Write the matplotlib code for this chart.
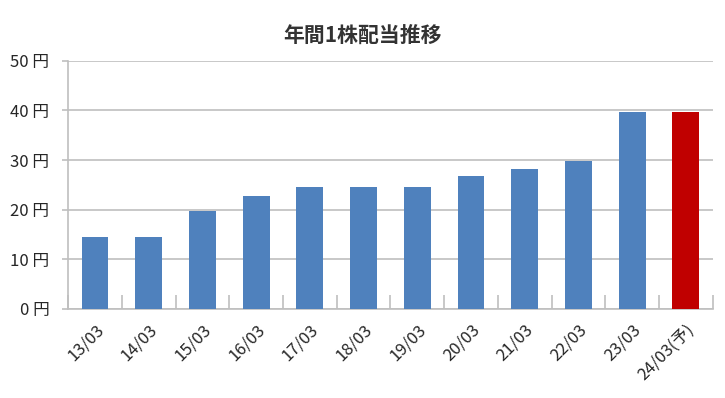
import numpy as np
import matplotlib.pyplot as plt
from matplotlib.ticker import MultipleLocator, FuncFormatter

plt.rcParams['font.family'] = ['Noto Sans CJK JP', 'DejaVu Sans']

# data
labels = ['13/03', '14/03', '15/03', '16/03', '17/03', '18/03', '19/03',
          '20/03', '21/03', '22/03', '23/03', '24/03(予)']
dividend = [14.5, 14.5, 19.75, 22.75, 24.5, 24.5, 24.5, 26.75, 28.25, 29.75, 39.75, 39.75]
colors = ['#4F81BD'] * 11 + ['#C00000']

fig = plt.figure(figsize=(7.25, 3.98), dpi=100)
ax = fig.add_axes([0.094, 0.224, 0.889, 0.623])

x = np.arange(len(labels))
ax.bar(x, dividend, width=0.5, color=colors, zorder=3)

ax.set_xlim(-0.5, len(labels) - 0.5)
ax.set_ylim(0, 50)
ax.yaxis.set_major_locator(MultipleLocator(10))
ax.yaxis.set_major_formatter(FuncFormatter(lambda v, p: '%d 円' % v))
ax.grid(axis='y', color='#BFBFBF', linewidth=1.2, zorder=0)

for s in ['top', 'right']:
    ax.spines[s].set_visible(False)
ax.spines['left'].set_color('#BFBFBF')
ax.spines['bottom'].set_color('#BFBFBF')
ax.spines['left'].set_linewidth(1.2)
ax.spines['bottom'].set_linewidth(1.2)

ax.set_xticks(x)
ax.set_xticklabels(labels, rotation=45, ha='right', va='top', rotation_mode='anchor')
for t in ax.get_xticklabels():
    t.set_x(t.get_position()[0])
ax.set_xticks(np.arange(-0.5, len(labels)), minor=True)
ax.tick_params(axis='x', which='major', length=0, labelsize=12, pad=9, labelcolor='#262626')
ax.tick_params(axis='x', which='minor', direction='in', length=10, color='#BFBFBF', width=1.2)
ax.tick_params(axis='y', length=4.5, color='#BFBFBF', width=1.2, labelsize=12, pad=9,
               labelcolor='#262626')

fig.text(0.5, 0.912, '年間1株配当推移', ha='center', va='center', fontsize=15,
         fontweight='bold', color='#333333')

fig.savefig('out.png', dpi=100)
